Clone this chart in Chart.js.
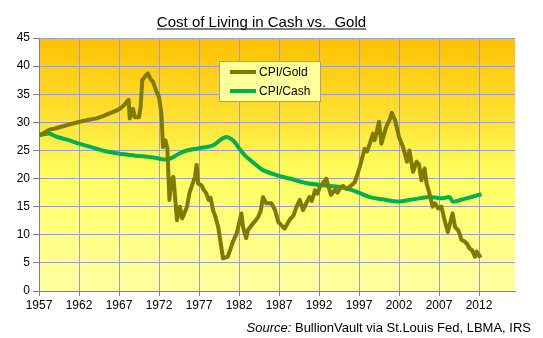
<!DOCTYPE html>
<html>
<head>
<meta charset="utf-8">
<script src="https://cdn.jsdelivr.net/npm/chart.js@4/dist/chart.umd.min.js"></script>
<style>
  html, body { margin: 0; padding: 0; background: #fff; }
  #wrap { width: 543px; height: 338px; }
</style>
</head>
<body>
<div id="wrap"><canvas id="livingChart" width="543" height="338"></canvas></div>
<script>
// CPI priced in gold (olive) and in dollars (green), decimal years
const goldYear = [
  1957.0, 1957.5, 1958.3, 1959.0, 1960.0, 1961.0, 1962.1, 1963.0, 1964.2, 1965.0,
  1965.8, 1966.5, 1967.1, 1967.6, 1968.1, 1968.2, 1968.35, 1968.75, 1969.0, 1969.5,
  1969.7, 1969.9, 1970.4, 1970.6, 1970.9, 1971.25, 1971.7, 1972.0, 1972.3, 1972.5,
  1972.8, 1973.05, 1973.3, 1973.55, 1973.8, 1974.25, 1974.6, 1974.9, 1975.5, 1975.8,
  1976.5, 1976.7, 1976.9, 1977.3, 1977.6, 1977.9, 1978.2, 1978.45, 1978.75, 1979.1,
  1979.4, 1980.0, 1980.6, 1981.25, 1981.7, 1982.3, 1982.5, 1982.9, 1983.1, 1983.75,
  1984.1, 1984.4, 1984.7, 1985.0, 1985.4, 1986.05, 1986.5, 1986.9, 1987.7, 1988.3,
  1988.8, 1989.2, 1989.6, 1990.0, 1990.4, 1990.8, 1991.1, 1991.5, 1991.8, 1992.1,
  1992.5, 1992.9, 1993.5, 1994.0, 1994.3, 1994.6, 1995.0, 1995.4, 1995.8, 1996.5,
  1997.1, 1997.7, 1998.0, 1998.35, 1998.75, 1998.95, 1999.2, 1999.5, 1999.8, 2000.4,
  2000.8, 2001.1, 2001.5, 2002.0, 2002.5, 2003.0, 2003.3, 2003.75, 2004.2, 2004.5,
  2004.8, 2005.2, 2005.45, 2005.8, 2006.2, 2006.5, 2006.9, 2007.3, 2007.7, 2008.1,
  2008.7, 2009.0, 2009.4, 2009.6, 2009.8, 2010.2, 2010.5, 2010.8, 2011.1, 2011.5,
  2011.7, 2012.0, 2012.3
];
const goldRatio = [
  27.7, 28.0, 28.7, 28.9, 29.3, 29.7, 30.1, 30.4, 30.7, 31.1,
  31.6, 32.0, 32.4, 33.0, 33.9, 34.0, 30.7, 32.4, 30.9, 30.9,
  32.7, 37.5, 38.4, 38.7, 37.8, 37.2, 35.4, 34.5, 31.6, 25.6,
  26.8, 25.3, 16.2, 19.7, 20.3, 12.6, 15.0, 12.9, 15.0, 17.4,
  20.3, 22.4, 19.1, 18.8, 18.0, 17.4, 16.2, 16.6, 14.4, 13.0,
  11.4, 5.8, 6.1, 8.8, 10.2, 13.8, 11.4, 9.4, 10.8, 12.0,
  12.6, 13.2, 14.2, 16.7, 15.6, 15.6, 14.4, 12.3, 11.1, 12.6,
  13.4, 15.0, 16.2, 14.4, 15.6, 16.7, 16.0, 17.9, 17.3, 18.5,
  19.2, 20.0, 17.1, 18.0, 17.5, 18.2, 18.7, 18.2, 18.5, 19.4,
  22.1, 25.3, 24.8, 26.2, 28.0, 26.8, 28.2, 30.1, 26.2, 29.2,
  30.4, 31.7, 30.4, 27.4, 25.6, 23.0, 25.0, 21.2, 23.0, 22.5,
  19.7, 21.8, 19.1, 17.4, 15.0, 15.6, 14.7, 15.0, 12.6, 10.5,
  13.8, 11.4, 10.8, 10.1, 9.1, 8.8, 8.4, 7.6, 7.3, 6.1,
  7.0, 6.2, 6.4
];

const cashYear = [
  1957.0, 1958.3, 1958.75, 1959.5, 1960.8, 1962.0, 1963.0, 1964.2, 1965.5, 1966.7,
  1968.3, 1969.5, 1970.5, 1971.5, 1972.7, 1973.3, 1974.0, 1974.6, 1975.5, 1977.1,
  1978.75, 1979.6, 1980.4, 1981.25, 1982.0, 1982.9, 1984.0, 1985.0, 1986.7, 1988.3,
  1990.4, 1992.5, 1994.6, 1996.25, 1998.35, 2000.4, 2001.9, 2003.75, 2005.8, 2007.5,
  2008.3, 2008.75, 2010.0, 2011.25, 2012.3
];
const cashRatio = [
  27.7, 28.0, 27.7, 27.3, 26.8, 26.2, 25.8, 25.3, 24.8, 24.5,
  24.2, 24.0, 23.9, 23.7, 23.4, 23.5, 24.0, 24.5, 25.0, 25.4,
  25.9, 26.8, 27.4, 26.8, 25.4, 23.9, 22.6, 21.5, 20.6, 20.0,
  19.2, 18.8, 18.5, 17.9, 16.7, 16.2, 15.9, 16.3, 16.7, 16.5,
  16.7, 15.9, 16.3, 16.8, 17.2
];

const yearTicks = [1957, 1962, 1967, 1972, 1977, 1982, 1987, 1992, 1997, 2002, 2007, 2012];
const seriesNames = ["CPI/Gold", "CPI/Cash"];
const seriesColors = ["#7f7a00", "#00b050"];

const FONT = "'Liberation Sans', Arial, sans-serif";

function toPoints(xs, ys) {
  return xs.map((x, i) => ({ x: x, y: ys[i] }));
}

// orange-to-pale-yellow wash behind the plot
const plotBackground = {
  id: "plotBackground",
  beforeDraw(chart) {
    const { ctx, chartArea: a } = chart;
    let g = ctx.createLinearGradient(0, a.top, 0, a.bottom);
    g.addColorStop(0, "#ffc000");
    g.addColorStop(0.3, "#ffe030");
    g.addColorStop(0.55, "#ffff60");
    g.addColorStop(1, "#ffffa4");
    ctx.save();
    ctx.fillStyle = g;
    ctx.fillRect(a.left, a.top, a.right - a.left, a.bottom - a.top);
    ctx.restore();
  },
};

// title, boxed legend and source line
const annotations = {
  id: "annotations",
  afterDraw(chart) {
    const ctx = chart.ctx;
    ctx.save();

    ctx.fillStyle = "#000";
    ctx.font = "15px " + FONT;
    ctx.textAlign = "center";
    ctx.textBaseline = "alphabetic";
    const title = "Cost of Living in Cash vs.  Gold";
    ctx.fillText(title, 261.5, 26.5);
    const tw = ctx.measureText(title).width;
    ctx.fillRect(261.5 - tw / 2, 28.5, tw, 1);

    // legend box
    ctx.fillStyle = "#ffff9c";
    ctx.fillRect(219, 61, 102, 41);
    ctx.strokeStyle = "#a0a0a0";
    ctx.lineWidth = 1;
    ctx.strokeRect(219.5, 61.5, 101, 40);
    ctx.font = "12px " + FONT;
    ctx.textAlign = "left";
    ctx.textBaseline = "middle";
    const rows = [72, 91];
    seriesNames.forEach((name, i) => {
      ctx.strokeStyle = seriesColors[i];
      ctx.lineWidth = 4;
      ctx.beginPath();
      ctx.moveTo(230, rows[i]);
      ctx.lineTo(256, rows[i]);
      ctx.stroke();
      ctx.fillStyle = "#000";
      ctx.fillText(name, 259, rows[i] + 0.5);
    });

    // source
    ctx.font = "13px " + FONT;
    ctx.textAlign = "left";
    ctx.textBaseline = "alphabetic";
    const rest = " BullionVault via St.Louis Fed, LBMA, IRS";
    const restW = ctx.measureText(rest).width;
    ctx.font = "italic 13px " + FONT;
    const srcW = ctx.measureText("Source:").width;
    const x0 = 531 - restW - srcW;
    ctx.fillText("Source:", x0, 332);
    ctx.font = "13px " + FONT;
    ctx.fillText(rest, x0 + srcW, 332);

    ctx.restore();
  },
};

new Chart(document.getElementById("livingChart"), {
  type: "line",
  data: {
    datasets: [
      {
        label: seriesNames[0],
        data: toPoints(goldYear, goldRatio),
        borderColor: seriesColors[0],
        borderWidth: 4,
        pointRadius: 0,
        tension: 0,
        borderJoinStyle: "round",
      },
      {
        label: seriesNames[1],
        data: toPoints(cashYear, cashRatio),
        borderColor: seriesColors[1],
        borderWidth: 4,
        pointRadius: 0,
        tension: 0.3,
        borderJoinStyle: "round",
      },
    ],
  },
  options: {
    responsive: false,
    animation: false,
    devicePixelRatio: 1,
    layout: { padding: { top: 38, right: 28, left: 0, bottom: 0 } },
    plugins: {
      legend: { display: false },
      title: { display: false },
      tooltip: { enabled: false },
    },
    scales: {
      x: {
        type: "linear",
        min: 1957,
        max: 2016.5,
        afterBuildTicks: (s) => {
          s.ticks = yearTicks.map((v) => ({ value: v }));
        },
        afterFit: (s) => {
          s.height = 47;
        },
        ticks: {
          color: "#000",
          font: { family: FONT, size: 12 },
          padding: 2,
          maxRotation: 0,
          callback: (v) => String(v),
        },
        grid: {
          color: "#9c9cc8",
          lineWidth: 1,
          tickLength: 5,
          tickColor: "#808080",
        },
        border: { color: "#808080", width: 1 },
      },
      y: {
        min: 0,
        max: 45,
        afterFit: (s) => {
          s.width = 39;
        },
        ticks: {
          stepSize: 5,
          color: "#000",
          font: { family: FONT, size: 12 },
          padding: 3,
        },
        grid: {
          color: "#9c9cc8",
          lineWidth: 1,
          tickLength: 6,
          tickColor: "#808080",
        },
        border: { color: "#808080", width: 1 },
      },
    },
  },
  plugins: [plotBackground, annotations],
});
</script>
</body>
</html>
